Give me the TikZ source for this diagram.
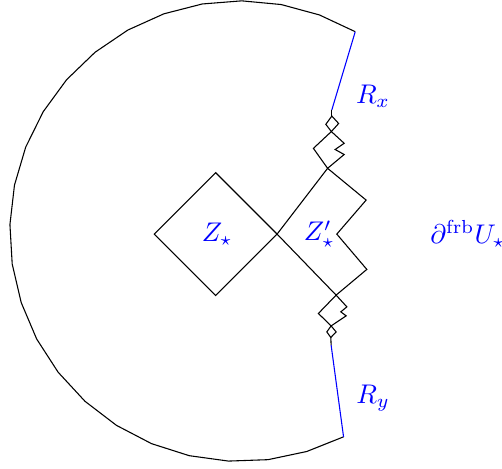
\documentclass[tikz,border=0pt]{standalone}
\usepackage{amsmath}
\usetikzlibrary{calc}
\begin{document}
\begin{tikzpicture}[
    every node/.style={text=blue},
    piece/.style={draw=black,line join=miter}]

\useasboundingbox (-3.61,-3.05) rectangle (2.93,3.05);

% Labels
\node (zs) at (-0.78,0) {$Z_\star$};
\node (zp) at (0.55,0) {$Z'_\star$};
\node (rxl) at (1.25,1.79) {$R_x$};
\node (ryl) at (1.25,-2.14) {$R_y$};
\node (bd) at (2.485,0) {$\partial^{\mathrm{frb}}U_\star$};

%========================
% Outer boundary
%========================

\coordinate (c0) at (-0.482,0.039);
\coordinate (rx1) at ($(c0)+(60:3)$);
\coordinate (ry1) at ($(c0)+(296.7:3)$);
\draw plot[domain=60:296.7, samples=25] ({-0.482+3*cos(\x)},{0.039+3*sin(\x)});

% top end
\coordinate (rx2) at (0.713,1.617);
\coordinate (s1) at (0.713,1.538);
\draw[blue] (rx1)--(rx2);
\draw (rx2)--(s1);

% bottom end
\coordinate (ry2) at (0.704,-1.447);
\coordinate (s2) at (0.700,-1.347);
\draw[blue] (ry1)--(ry2);
\draw (ry2)--(s2);

%========================
% Diamonds
%========================

% Z
\coordinate (o) at (0,0);
\draw[piece] (o)--(-0.8,0.8)--(-1.6,0)--(-0.8,-0.8)--cycle;

% Z'
\coordinate (t1) at (0.658,0.857);
\coordinate (b1) at (0.769,-0.795);
\draw[piece] (o)--(t1)--(1.160,0.443)--(0.778,0)--(1.169,-0.460)--(b1)--cycle;

% upper pieces
\coordinate (t2) at (0.707,1.336);
\draw[piece] (t1)--(0.473,1.117)--(t2)--(0.874,1.183)--(0.756,1.102)--(0.874,1.037)--cycle;
\draw[piece] (t2)--(0.635,1.430)--(s1)--(0.802,1.441)--cycle;

% lower pieces
\coordinate (b2) at (0.704,-1.196);
\draw[piece] (b1)--(0.909,-0.948)--(0.830,-1.013)--(0.900,-1.065)--(b2)--(0.538,-1.034)--cycle;
\draw[piece] (b2)--(0.648,-1.274)--(s2)--(0.769,-1.274)--cycle;

\end{tikzpicture}
\end{document}
